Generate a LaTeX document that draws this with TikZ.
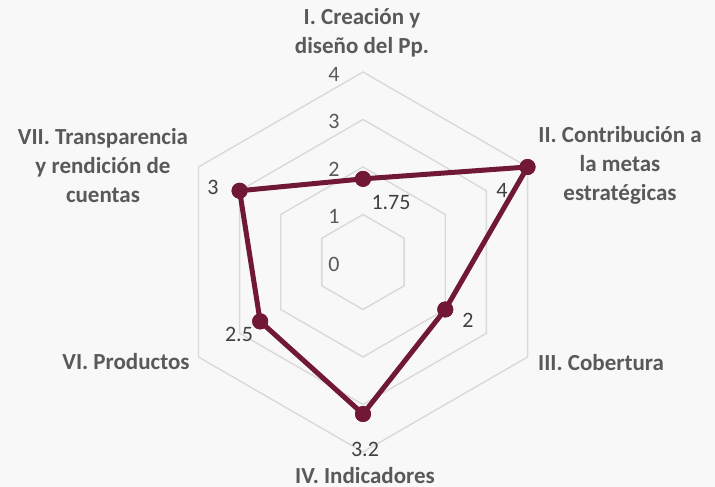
\documentclass[tikz,border=0pt]{standalone}
\usepackage{fontspec}
\setmainfont{Carlito}
\usepackage{tikz}
\usetikzlibrary{calc,positioning}
\definecolor{bgcol}{RGB}{248,248,248}
\definecolor{gridcol}{RGB}{217,217,217}
\definecolor{serie}{RGB}{112,24,54}
\definecolor{lblcol}{RGB}{89,89,89}
\definecolor{numcol}{RGB}{64,64,64}
\tikzset{ring/.style={draw=gridcol, line width=1.4pt},
  serieline/.style={draw=serie, line width=5pt, line join=round},
  dot/.style={circle, fill=serie, inner sep=0pt, minimum size=16pt},
  axislbl/.style={font=\fontsize{23}{29}\selectfont\bfseries, text=lblcol, align=center, inner sep=0pt},
  vallbl/.style={font=\fontsize{22}{26}\selectfont, text=numcol, inner sep=0pt},
  ticklbl/.style={font=\fontsize{22}{26}\selectfont, text=lblcol, inner sep=0pt}
}
\newcommand{\unitr}{47.5}

\begin{document}
\begin{tikzpicture}[x=1pt,y=1pt]
    \fill[bgcol] (0,0) rectangle (715,487);
    \useasboundingbox (0,0) rectangle (715,487);
    \coordinate (c) at (363,225);
    % rings
    \foreach \r in {1,...,4} {
        \draw[ring,shift={(c)}] (90:\r*\unitr) -- (30:\r*\unitr) -- (-30:\r*\unitr) -- (-90:\r*\unitr) -- (-150:\r*\unitr) -- (150:\r*\unitr) -- cycle;
    }
    \foreach \t in {0,...,4} {
        \node[ticklbl] (tick\t) at (334,{223+\t*\unitr}) {\t};
    }
    % data points
    \node[dot] (pI) at ($(c)+(90:1.75*\unitr)$) {};
    \node[dot] (pII) at ($(c)+(30:4*\unitr)$) {};
    \node[dot] (pIII) at ($(c)+(-30:2*\unitr)$) {};
    \node[dot] (pIV) at ($(c)+(-90:3.2*\unitr)$) {};
    \node[dot] (pVI) at ($(c)+(-150:2.5*\unitr)$) {};
    \node[dot] (pVII) at ($(c)+(150:3*\unitr)$) {};
    \draw[serieline] (pI.center) -- (pII.center) -- (pIII.center) -- (pIV.center) -- (pVI.center) -- (pVII.center) -- cycle;
    \foreach \p in {pI,pII,pIII,pIV,pVI,pVII} {
        \fill[serie] (\p) circle (8);
    }
    % values
    \node[vallbl] (vI) at (391,284) {1.75};
    \node[vallbl] (vII) at (502,297) {4};
    \node[vallbl] (vIII) at (468,167) {2};
    \node[vallbl] (vIV) at (365,38) {3.2};
    \node[vallbl] (vVI) at (239,153) {2.5};
    \node[vallbl] (vVII) at (213,300) {3};
    % categories
    \node[axislbl] (lblI) at (362,454) {I. Creación y\\diseño del Pp.};
    \node[axislbl] (lblII) at (620,322) {II. Contribución a\\la metas\\estratégicas};
    \node[axislbl] (lblIII) at (601,124) {III. Cobertura};
    \node[axislbl, anchor=base] (lblIV) at (365,3) {IV. Indicadores};
    \node[axislbl] (lblVI) at (126,125) {VI. Productos};
    \node[axislbl] (lblVII) at (103,321) {VII. Transparencia\\y rendición de\\cuentas};
\end{tikzpicture}
\end{document}
